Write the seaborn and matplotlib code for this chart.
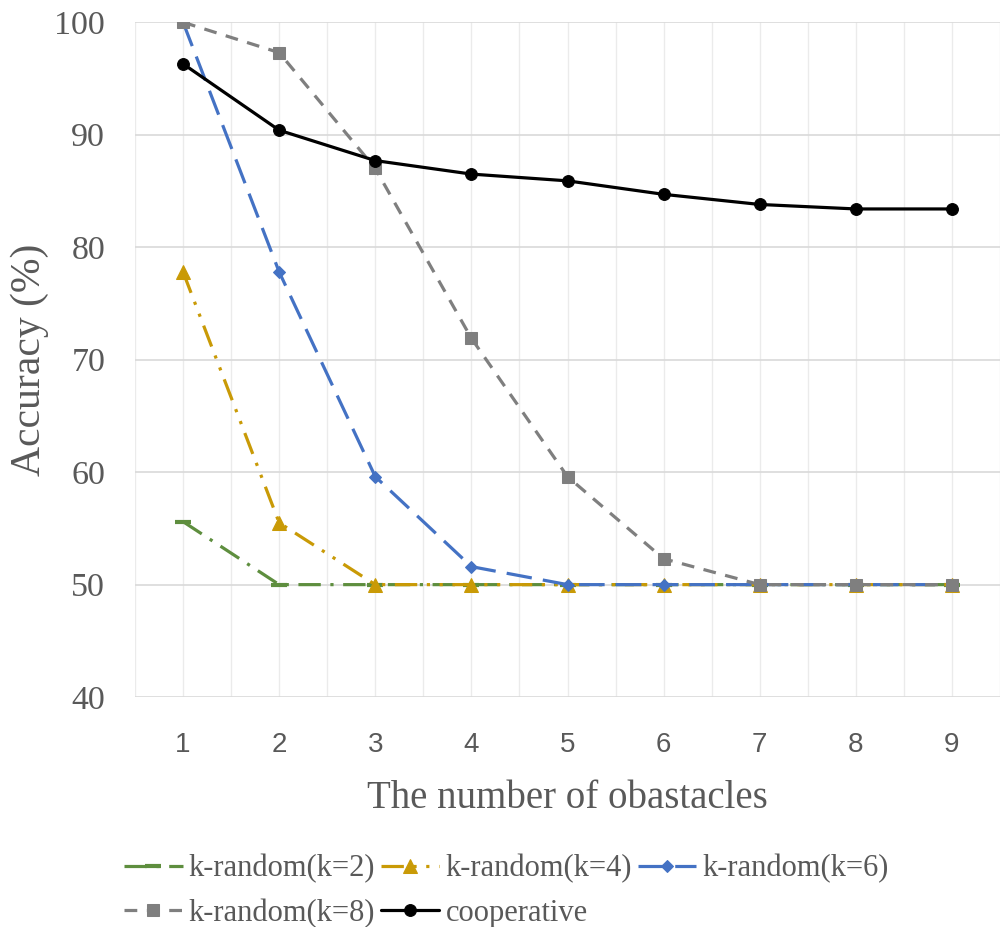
import matplotlib
matplotlib.use("Agg")
import matplotlib.pyplot as plt
import seaborn as sns
import pandas as pd
import numpy as np

obstacles = [1, 2, 3, 4, 5, 6, 7, 8, 9]
k2 = [55.6, 50, 50, 50, 50, 50, 50, 50, 50]
k4 = [77.8, 55.5, 50, 50, 50, 50, 50, 50, 50]
k6 = [100, 77.8, 59.6, 51.6, 50, 50, 50, 50, 50]
k8 = [100, 97.3, 87.0, 71.9, 59.6, 52.3, 50, 50, 50]
coop = [96.3, 90.4, 87.7, 86.5, 85.9, 84.7, 83.8, 83.4, 83.4]
names = ["k-random(k=2)", "k-random(k=4)", "k-random(k=6)", "k-random(k=8)", "cooperative"]
yticks = [40, 50, 60, 70, 80, 90, 100]

sns.set_theme(style="white")
fig = plt.figure(figsize=(10, 9.27), dpi=100)
ax = fig.add_axes([0.135, 0.248, 0.865, 0.728])

styles = [
    dict(color="#5E8E3E", marker="_", markersize=12, mew=3, linestyle=(0, (7, 3, 1, 3))),
    dict(color="#C99A06", marker="^", markersize=10, linestyle=(0, (7, 3, 1, 3, 1, 3))),
    dict(color="#4472C4", marker="D", markersize=6.5, linestyle=(0, (8, 3.5))),
    dict(color="#7F7F7F", marker="s", markersize=9, linestyle=(0, (4, 3))),
    dict(color="#000000", marker="o", markersize=8.5, linestyle="-"),
]
series = [k2, k4, k6, k8, coop]
handles = []
for name, vals, st in zip(names, series, styles):
    df = pd.DataFrame({"x": obstacles, "y": vals})
    sns.lineplot(data=df, x="x", y="y", ax=ax, linewidth=2.3, label=name,
                 markeredgecolor=st["color"], **st)
    handles.append(ax.get_lines()[-1])

ax.set_xlim(0.5, 9.42)
ax.set_ylim(40, 100)
ax.set_yticks(yticks)
ax.set_yticklabels([str(v) for v in yticks], family="Liberation Serif", fontsize=24.5, color="#595959")
ax.set_xticks(obstacles)
ax.set_xticklabels([str(v) for v in obstacles], family="Liberation Sans", fontsize=20, color="#595959")
ax.set_xticks(np.arange(0.5, 9.6, 1.0), minor=True)
ax.grid(True, which="major", axis="y", color="#D9D9D9", linewidth=1.2)
ax.grid(True, which="both", axis="x", color="#EBEBEB", linewidth=1)
ax.tick_params(axis="y", length=0, pad=21.5)
ax.tick_params(axis="x", which="both", length=0, pad=25)
for s in ax.spines.values():
    s.set_visible(False)
ax.set_xlabel("The number of obastacles", family="Liberation Serif", fontsize=28, color="#595959", labelpad=16)
ax.set_ylabel("Accuracy (%)", family="Liberation Serif", fontsize=30, color="#595959")
ax.yaxis.set_label_coords(-0.099, 0.5)

order = [0, 3, 1, 4, 2]
leg = ax.legend([handles[i] for i in order], [names[i] for i in order], ncol=3,
                loc="upper center", bbox_to_anchor=(0.4295, -0.233), frameon=False,
                prop={"family": "Liberation Serif", "size": 22}, handlelength=1.9,
                handletextpad=0.2, columnspacing=0.2, labelspacing=0.5,
                borderpad=0.0, borderaxespad=0.0)
for t in leg.get_texts():
    t.set_color("#595959")

fig.savefig("out.png", dpi=100)
